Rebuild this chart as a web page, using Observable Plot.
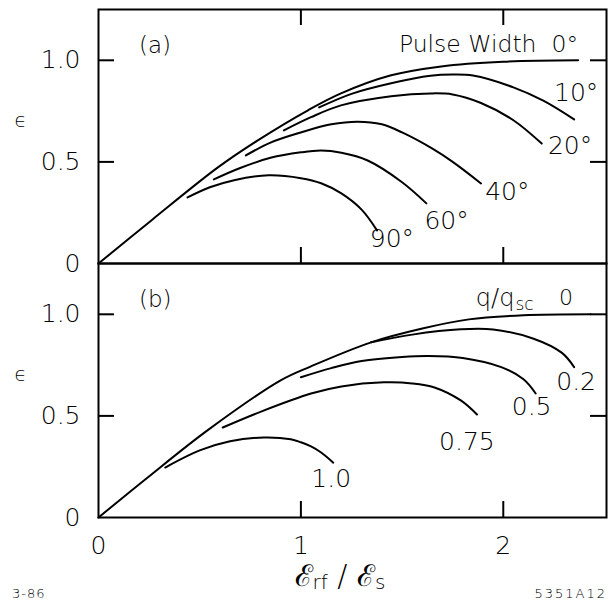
<!DOCTYPE html>
<html>
<head>
<meta charset="utf-8">
<script src="https://cdn.jsdelivr.net/npm/d3@7"></script>
<script src="https://cdn.jsdelivr.net/npm/@observablehq/plot@0.6"></script>
<style>
  html, body { margin: 0; padding: 0; background: #fff; }
  svg text { font-family: "DejaVu Sans", "Liberation Sans", sans-serif; font-weight: 200; }
</style>
</head>
<body>
<div id="chart"></div>
<script>
// ---- Panel (a): pulse width curves ----
const pulseLabels = ["0°", "10°", "20°", "40°", "60°", "90°"];
const pw0  = [[0,0],[0.267,0.217],[0.59,0.473],[0.787,0.606],[1.035,0.754],[1.198,0.837],[1.446,0.926],[1.693,0.97],[2.0,0.993],[2.37,1.0]];
const pw10 = [[1.09,0.768],[1.25,0.835],[1.446,0.887],[1.64,0.924],[1.75,0.93],[1.85,0.925],[2.05,0.867],[2.2,0.80],[2.35,0.709]];
const pw20 = [[0.916,0.655],[1.05,0.72],[1.198,0.778],[1.446,0.823],[1.64,0.837],[1.75,0.832],[1.89,0.79],[2.05,0.705],[2.19,0.59]];
const pw40 = [[0.728,0.532],[0.85,0.595],[1.0,0.645],[1.15,0.685],[1.28,0.698],[1.4,0.685],[1.5,0.645],[1.65,0.565],[1.75,0.5],[1.89,0.394]];
const pw60 = [[0.57,0.414],[0.7,0.47],[0.85,0.52],[1.0,0.547],[1.1,0.556],[1.2,0.545],[1.33,0.507],[1.5,0.40],[1.62,0.296]];
const pw90 = [[0.44,0.325],[0.55,0.375],[0.67,0.41],[0.84,0.434],[1.0,0.42],[1.1,0.395],[1.2,0.345],[1.3,0.265],[1.376,0.163]];
const pulseSeries = [pw0, pw10, pw20, pw40, pw60, pw90];

// ---- Panel (b): q/q_sc curves ----
const qLabels = ["0", "0.2", "0.5", "0.75", "1.0"];
const q0   = [[0,0],[0.243,0.197],[0.54,0.43],[0.9,0.675],[1.05,0.744],[1.347,0.862],[1.6,0.93],[1.83,0.975],[2.1,0.995],[2.43,1.0]];
const q02  = [[1.347,0.862],[1.55,0.9],[1.79,0.926],[1.95,0.925],[2.15,0.88],[2.29,0.81],[2.35,0.74]];
const q05  = [[1.0,0.69],[1.15,0.735],[1.3,0.77],[1.5,0.79],[1.63,0.795],[1.8,0.785],[1.99,0.74],[2.1,0.68],[2.16,0.61]];
const q075 = [[0.614,0.443],[0.8,0.52],[1.05,0.61],[1.2,0.645],[1.41,0.665],[1.55,0.66],[1.66,0.64],[1.79,0.576],[1.87,0.507]];
const q1   = [[0.33,0.246],[0.5,0.33],[0.65,0.375],[0.817,0.394],[0.95,0.385],[1.0,0.37],[1.05,0.35],[1.10,0.32],[1.16,0.27]];
const qSeries = [q0, q02, q05, q075, q1];

// ---- axes ----
const xTicks = [0, 1, 2];
const yTicks = [0, 0.5, 1.0];
const innerTicksY = [0.5, 1.0];
const innerTicksX = [1, 2];
const xDomain = [0, 2.51];
const yDomain = [0, 1.25];

// ---- curve labels: [x, y, text] ----
const pulseHeader = [[2.37, 1.08, "Pulse Width  0°"]];
const pulseLabelPos = [[2.36,0.837,"10°"],[2.33,0.58,"20°"],[2.02,0.35,"40°"],[1.72,0.21,"60°"],[1.45,0.123,"90°"]];
const qHeader = [[2.31, 1.08, "0"]];
const qLabelPos = [[2.36,0.665,"0.2"],[2.14,0.542,"0.5"],[1.82,0.37,"0.75"],[1.15,0.19,"1.0"]];

// build tables
const rows = [];
pulseSeries.forEach((s, i) => s.forEach(([x, y]) => rows.push({panel: "a", series: "a" + pulseLabels[i], x, y})));
qSeries.forEach((s, i) => s.forEach(([x, y]) => rows.push({panel: "b", series: "b" + qLabels[i], x, y})));

const W = 610, H = 601, mL = 98, mR = 4, mT = 9, mB = 84;
const plotW = W - mL - mR, panelH = (H - mT - mB) / 2;
const tickPx = 16;
const tx = tickPx * (xDomain[1] - xDomain[0]) / plotW;
const ty = tickPx * (yDomain[1] - yDomain[0]) / panelH;

const toRows = (arr, panel) => arr.map(([x, y, t]) => ({panel, x, y, t}));
const curveLabels = [...toRows(pulseLabelPos, "a"), ...toRows(qLabelPos, "b")];
const panelTitles = [{panel: "a", t: "(a)"}, {panel: "b", t: "(b)"}];
const xTickRows = [
  ...innerTicksX.map(v => ({panel: "a", x: v, y1: yDomain[1] - ty, y2: yDomain[1]})),
  ...innerTicksX.map(v => ({panel: "a", x: v, y1: 0, y2: ty})),
  ...innerTicksX.map(v => ({panel: "b", x: v, y1: 0, y2: ty}))
];

const plot = Plot.plot({
  width: W, height: H,
  marginLeft: mL, marginRight: mR, marginTop: mT, marginBottom: mB,
  x: {domain: xDomain, label: null},
  y: {domain: yDomain, label: null},
  fy: {domain: ["a", "b"], padding: 0, axis: null, label: null},
  style: {background: "white", color: "black"},
  marks: [
    Plot.frame({stroke: "black", strokeWidth: 2}),
    Plot.ruleY(innerTicksY, {x1: xDomain[0], x2: xDomain[0] + tx, stroke: "black", strokeWidth: 2}),
    Plot.ruleY(innerTicksY, {x1: xDomain[1] - tx, x2: xDomain[1], stroke: "black", strokeWidth: 2}),
    Plot.ruleX(xTickRows, {x: "x", y1: "y1", y2: "y2", fy: "panel", stroke: "black", strokeWidth: 2}),
    Plot.axisY({ticks: yTicks, tickSize: 0, tickPadding: 18, fontSize: 25, tickFormat: d => d === 0 ? "0" : d.toFixed(1), label: null}),
    Plot.axisX({ticks: xTicks, tickSize: 0, tickPadding: 19, fontSize: 25, tickFormat: d => String(d), label: null}),
    Plot.line(rows, {x: "x", y: "y", z: "series", fy: "panel", curve: "catmull-rom", stroke: "black", strokeWidth: 2}),
    Plot.text(curveLabels, {x: "x", y: "y", text: "t", fy: "panel", fontSize: 25, textAnchor: "middle", fill: "black"}),
    Plot.text(toRows(pulseHeader, "a"), {x: "x", y: "y", text: "t", fy: "panel", fontSize: 23.5, textAnchor: "end", fill: "black"}),
    Plot.text(toRows(qHeader, "b"), {x: "x", y: "y", text: "t", fy: "panel", fontSize: 22, textAnchor: "middle", fill: "black"}),
    Plot.text(panelTitles, {x: 0.2, y: 1.07, text: "t", fy: "panel", fontSize: 23, textAnchor: "start", fill: "black"}),
    Plot.text(panelTitles, {frameAnchor: "left", text: () => "ϵ", fy: "panel", dx: -84, dy: -16, fontSize: 20, fill: "black"}),
    Plot.text([{panel: "b"}], {x: 2.055, y: 1.08, text: () => "q/q", fy: "panel", fontSize: 24, textAnchor: "end", fill: "black"}),
    Plot.text([{panel: "b"}], {x: 2.06, y: 1.08, text: () => "sc", fy: "panel", dy: 7, fontSize: 17, textAnchor: "start", fill: "black"})
  ]
});

const svg = d3.select(plot);
const title = svg.append("text").attr("x", 340).attr("y", 586).attr("text-anchor", "middle").attr("fill", "black").attr("font-size", 30);
title.append("tspan").text("ℰ");
title.append("tspan").attr("font-size", 20).attr("dy", 3).text("rf");
title.append("tspan").attr("dy", -3).text(" / ");
title.append("tspan").text("ℰ");
title.append("tspan").attr("font-size", 20).attr("dy", 3).text("s");
svg.append("text").attr("x", 12).attr("y", 598).attr("font-size", 13).attr("text-anchor", "start").attr("fill", "black").attr("letter-spacing", 1).text("3-86");
svg.append("text").attr("x", 607).attr("y", 598).attr("font-size", 13).attr("text-anchor", "end").attr("fill", "black").attr("letter-spacing", 2).text("5351A12");

document.getElementById("chart").appendChild(plot);
</script>
</body>
</html>
